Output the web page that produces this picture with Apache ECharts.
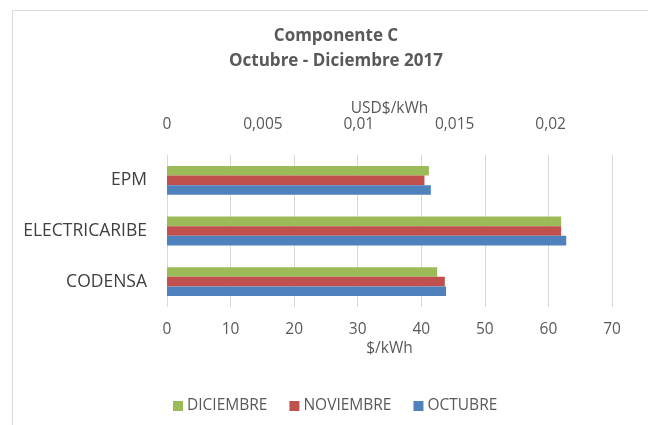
<!DOCTYPE html>
<html>
<head>
<meta charset="utf-8">
<script src="https://cdn.jsdelivr.net/npm/echarts@6/dist/echarts.min.js"></script>
<style>
  html, body { margin: 0; padding: 0; background: #fff; }
  #chart { width: 648px; height: 425px; }
</style>
</head>
<body>
<div id="chart"></div>
<script>
// categorias, de abajo hacia arriba (eje y no invertido)
var categorias = ['CODENSA', 'ELECTRICARIBE', 'EPM'];
var meses = ['DICIEMBRE', 'NOVIEMBRE', 'OCTUBRE'];
// $/kWh por mes
var diciembre = [42.5, 62.0, 41.2];
var noviembre = [43.7, 62.0, 40.5];
var octubre = [43.9, 62.8, 41.5];
var colores = ['#9BBB59', '#C0504D', '#4F81BD'];
// eje superior en USD$/kWh
var maxPesos = 70;
var maxUsd = 0.0232;

var gris = '#595959';
var fuente = 'Open Sans';

var container = echarts.init(document.getElementById('chart'));

function serie(nombre, datos, color) {
	return {
		name: nombre,
		type: 'bar',
		xAxisIndex: 0,
		data: datos,
		itemStyle: { color: color },
		barGap: '0%',
		barCategoryGap: '43%'
	};
}

container.setOption({
	textStyle: { fontFamily: fuente },
	graphic: [{
		type: 'rect',
		left: 10, top: 8,
		shape: { width: 700, height: 500 },
		style: { fill: 'none', stroke: '#d9d9d9', lineWidth: 1 },
		silent: true
	}],
	title: {
		text: 'Componente C\nOctubre - Diciembre 2017',
		left: 331,
		textAlign: 'center',
		top: 19,
		textStyle: {
			fontFamily: fuente,
			fontSize: 17,
			fontWeight: 'bold',
			color: gris,
			lineHeight: 25
		}
	},
	legend: {
		data: meses,
		bottom: 6,
		left: 168,
		itemWidth: 10,
		itemHeight: 10,
		itemGap: 22,
		icon: 'rect',
		textStyle: { fontFamily: fuente, fontSize: 15.5, color: gris, padding: [0, 0, 0, -1] }
	},
	grid: { left: 167, right: 36, top: 155, bottom: 118, containLabel: false },
	xAxis: [{
		type: 'value',
		position: 'bottom',
		min: 0,
		max: maxPesos,
		interval: 10,
		name: '$/kWh',
		nameLocation: 'middle',
		nameGap: 34,
		nameTextStyle: { fontFamily: fuente, fontSize: 15.5, color: gris },
		axisLine: { show: false },
		axisTick: { show: false },
		axisLabel: { fontFamily: fuente, fontSize: 15.5, color: gris, margin: 15 },
		splitLine: { lineStyle: { color: '#d9d9d9' } }
	}, {
		type: 'value',
		position: 'top',
		min: 0,
		max: maxUsd,
		interval: 0.005,
		name: 'USD$/kWh',
		nameLocation: 'middle',
		nameGap: 36,
		nameTextStyle: { fontFamily: fuente, fontSize: 15.5, color: gris },
		axisLine: { show: false },
		axisTick: { show: false },
		axisLabel: {
			fontFamily: fuente, fontSize: 15.5, color: gris, margin: 22,
			showMaxLabel: false,
			formatter: function (v) { return String(v).replace('.', ','); }
		},
		splitLine: { show: false }
	}],
	yAxis: {
		type: 'category',
		data: categorias,
		axisLine: { show: false },
		axisTick: { show: false },
		axisLabel: { fontFamily: fuente, fontSize: 17.5, color: '#404040', margin: 20 }
	},
	series: [
		serie(meses[0], diciembre, colores[0]),
		serie(meses[1], noviembre, colores[1]),
		serie(meses[2], octubre, colores[2])
	]
});
</script>
</body>
</html>
